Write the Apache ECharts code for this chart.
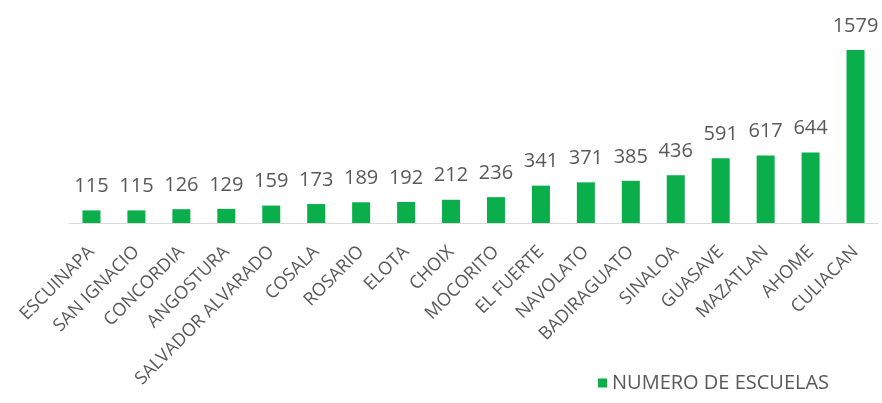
<!DOCTYPE html>
<html>
<head>
<meta charset="utf-8">
<script src="https://cdn.jsdelivr.net/npm/echarts@6/dist/echarts.min.js"></script>
<style>
  html, body { margin: 0; padding: 0; background: #fff; }
  #chart { width: 882px; height: 403px; }
</style>
</head>
<body>
<div id="chart"></div>
<script>
// municipios
var municipios = ['ESCUINAPA', 'SAN IGNACIO', 'CONCORDIA', 'ANGOSTURA', 'SALVADOR ALVARADO',
	'COSALA', 'ROSARIO', 'ELOTA', 'CHOIX', 'MOCORITO', 'EL FUERTE', 'NAVOLATO',
	'BADIRAGUATO', 'SINALOA', 'GUASAVE', 'MAZATLAN', 'AHOME', 'CULIACAN'];
// numero de escuelas
var escuelas = [115, 115, 126, 129, 159, 173, 189, 192, 212, 236, 341, 371, 385, 436, 591, 617, 644, 1579];

var myChart = echarts.init(document.getElementById('chart'));

var option = {
	animation: false,
	textStyle: {
		fontFamily: 'Open Sans'
	},
	grid: {
		left: 69,
		right: 4,
		top: 50,
		bottom: 180
	},
	legend: {
		left: 593,
		top: 368,
		itemWidth: 9,
		itemHeight: 9,
		itemGap: 5,
		icon: 'rect',
		textStyle: {
			color: '#595959',
			fontSize: 20
		},
		data: ['NUMERO DE ESCUELAS']
	},
	xAxis: {
		type: 'category',
		data: municipios,
		axisLine: {
			lineStyle: { color: '#d9d9d9', width: 1 }
		},
		axisTick: { show: false },
		axisLabel: {
			rotate: 45,
			interval: 0,
			margin: 26,
			color: '#595959',
			fontSize: 18
		}
	},
	yAxis: {
		type: 'value',
		min: 0,
		max: 1579,
		show: false,
		splitLine: { show: false }
	},
	series: [
		{
			name: 'NUMERO DE ESCUELAS',
			type: 'bar',
			barWidth: 18,
			itemStyle: {
				color: '#0aae4b'
			},
			label: {
				show: true,
				position: 'top',
				distance: 14,
				color: '#595959',
				fontSize: 20
			},
			data: escuelas
		}
	]
};

myChart.setOption(option);
</script>
</body>
</html>
